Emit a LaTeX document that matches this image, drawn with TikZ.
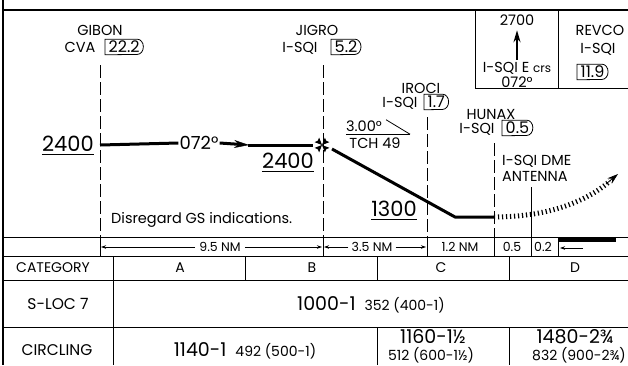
\documentclass[tikz,border=0pt]{standalone}
\usepackage{fontspec}
\setmainfont{Poppins}
\usetikzlibrary{arrows.meta}

\tikzset{
  lbl/.style={inner sep=0pt, text height=10.1pt, text depth=0pt, font=\fontsize{14.5}{16}\selectfont},
  big/.style={inner sep=0pt, text height=14.7pt, text depth=0pt, font=\fontsize{21}{24}\selectfont},
  sml/.style={inner sep=0pt, text height=8.7pt, text depth=0pt, font=\fontsize{12.5}{14}\selectfont},
  cat/.style={inner sep=0pt, text height=9.8pt, text depth=0pt, font=\fontsize{14}{16}\selectfont},
  rowlbl/.style={inner sep=0pt, text height=10.8pt, text depth=0pt, font=\fontsize{15.5}{18}\selectfont},
  mins/.style={inner sep=0pt, text height=13.3pt, text depth=0pt, font=\fontsize{19}{22}\selectfont},
  visb/.style={inner sep=0pt, text height=9.8pt, text depth=0pt, font=\smallfig},
  thinline/.style={line width=0.8pt},
  fixline/.style={line width=0.8pt, dash pattern=on 13pt off 4pt},
  prof/.style={line width=3pt, line join=round},
  tick/.style={thinline, -{Stealth[length=5pt,width=3.5pt]}}
}

\newcommand{\dmebox}[3]{%
  \node [lbl, font=\fontsize{16}{18}\selectfont, text height=11.2pt, anchor=west, inner xsep=3.5pt, inner ysep=2pt] (#1) at (#2) {#3\hspace{5pt}};
  \draw [thinline] (#1.north west) -- ([xshift=-6pt]#1.north east)
    arc [start angle=90, end angle=-90, x radius=6pt, y radius=7.6pt] -- (#1.south west) -- cycle;}

\newcommand{\smallfig}{\fontsize{14}{16}\selectfont}

\begin{document}
\begin{tikzpicture} [x=1pt, y=-1pt]
\useasboundingbox (0,0) rectangle (628,365);

\draw [line width=2pt] (3,0) -- (3,365);
\draw [line width=2pt] (3,10) -- (628,10);
\draw [thinline] (475,10) -- (475,88) -- (628,88);
\draw [thinline] (558,10) -- (558,88);

\node [lbl] (alt) at (517,20) {2700};
\node [lbl] (crs) at (517,67) {I-SQI E {\fontsize{12}{14}\selectfont crs}};
\node [lbl] (crsdeg) at (517,82) {072°};
\draw [line width=1.8pt, -{Stealth[length=12pt,width=7pt]}, shorten >=5pt] ([yshift=2pt]crs.north) -- (alt.south);

\node [lbl] (revco) at (600,30) {REVCO};
\node [lbl] (revcoid) at (598,48) {I-SQI};
\dmebox{revcodme}{577,72}{11.9}

\node [lbl] (gibon) at (100,30) {GIBON};
\node [lbl] (gibonid) at (80,47) {CVA};
\dmebox{gibondme}{105,47}{22.2}

\node [lbl] (jigro) at (317,30) {JIGRO};
\node [lbl] (jigroid) at (300,47) {I-SQI};
\dmebox{jigrodme}{331,47}{5.2}

\node [lbl] (iroci) at (421,88) {IROCI};
\node [lbl] (irociid) at (400,102) {I-SQI};
\dmebox{irocidme}{424,102}{1.7}

\node [lbl] (hunax) at (491,114) {HUNAX};
\node [lbl] (hunaxid) at (477,128) {I-SQI};
\dmebox{hunaxdme}{502,128}{0.5}

\node [lbl, anchor=west] (dme) at (502,160) {I-SQI DME};
\node [lbl, anchor=west] (ant) at (502,176) {ANTENNA};

\draw [fixline] (100,65) -- (100,237);
\draw [fixline] (323,65) -- (323,237);
\draw [fixline] (427,117) -- (427,237);
\draw [fixline] (494,143) -- (494,237);
\draw [thinline] (531,187) -- (531,256);

\node [big] (altgibon) at (68,144) {2400};
\draw [thinline] ([yshift=-3pt]altgibon.south west) -- ([yshift=-3pt]altgibon.south east);
\node [inner xsep=1pt, inner ysep=0pt, text height=12.6pt, text depth=0pt, font=\fontsize{18}{20}\selectfont] (course) at (199,143) {072°};
\draw [prof] (100,145) -- (course.west);
\draw [prof, -{Stealth[length=15pt,width=8pt,line width=0.5pt]}] (course.east) -- (249,145);
\draw [prof] (248,145) -- (313,145);

\coordinate (faf) at (322,145);
\foreach \a in {45,135,225,315}
  \fill (faf) -- ([shift={(\a-24:8pt)}]faf) -- ([shift={(\a:6pt)}]faf) -- ([shift={(\a+24:8pt)}]faf) -- cycle;

\node [big] (altjigro) at (288,161) {2400};
\draw [thinline] ([yshift=-3pt]altjigro.south west) -- ([yshift=-3pt]altjigro.south east);

\draw [prof] (332,149) -- (455,217) -- (494,217);
\draw [line width=5pt, dash pattern=on 1.2pt off 2.8pt] (494,217) .. controls (545,217) and (585,203) .. (610,181);
\draw [thinline, -{Stealth[length=11pt,width=7pt]}] (606,184) -- (618,174);

\node [lbl] (gsang) at (364,126) {3.00°};
\draw [thinline] ([yshift=-3pt]gsang.south west) -- ([xshift=28pt,yshift=-3pt]gsang.south east);
\draw [thinline] ([xshift=4pt,yshift=1pt]gsang.north east) -- ([xshift=28pt,yshift=-3pt]gsang.south east);
\node [lbl] (tch) at (375,143) {TCH 49};

\node [big] (altiroci) at (394,209) {1300};
\draw [thinline] ([yshift=-3pt]altiroci.south west) -- ([yshift=-3pt]altiroci.south east);

\node [lbl, anchor=west] (note) at (111,218) {Disregard GS indications.};

\draw [thinline] (3,237) -- (628,237);
\draw [thinline] (3,256) -- (628,256);
\foreach \x in {100,323,427,494,558}
  \draw [thinline] (\x,237) -- (\x,256);

\node [sml] (dist1) at (220,247) {9.5 NM};
\draw [tick] ([xshift=-4pt]dist1.west) -- (101,247);
\draw [tick] ([xshift=4pt]dist1.east) -- (322,247);
\node [sml] (dist2) at (372,247) {3.5 NM};
\draw [tick] ([xshift=-3pt]dist2.west) -- (324,247);
\draw [tick] ([xshift=3pt]dist2.east) -- (426,247);
\node [sml] (dist3) at (460,247) {1.2 NM};
\node [sml] (dist4) at (512,247) {0.5};
\node [sml] (dist5) at (543,247) {0.2};
\fill (559,237) rectangle (616,242);
\draw [tick] (583,248) -- (560,248);

\draw [thinline] (3,280) -- (628,280);
\draw [thinline] (3,327) -- (628,327);
\draw [thinline] (113,256) -- (113,365);
\draw [thinline] (245,256) -- (245,280);
\foreach \x in {377,509} {
  \draw [thinline] (\x,256) -- (\x,280);
  \draw [thinline] (\x,327) -- (\x,365);
}

\node [cat] (cathdr) at (53,268) {CATEGORY};
\node [cat] (cata) at (180,268) {A};
\node [cat] (catb) at (312,268) {B};
\node [cat] (catc) at (441,268) {C};
\node [cat] (catd) at (575,268) {D};

\node [rowlbl] (sloc) at (58,304) {S-LOC 7};
\node [mins] (slocmin) at (371,304) {1000-1\hspace{9pt}{\smallfig 352 (400-1)}};

\node [rowlbl] (circ) at (57,350) {CIRCLING};
\node [mins] (circab) at (245,350) {1140-1\hspace{9pt}{\smallfig 492 (500-1)}};
\node [mins] (circc) at (433,337) {1160-1½};
\node [visb] (circcv) at (431,356) {512 (600-1½)};
\node [mins] (circd) at (575,337) {1480-2¾};
\node [visb] (circdv) at (579,356) {832 (900-2¾)};

\end{tikzpicture}
\end{document}
